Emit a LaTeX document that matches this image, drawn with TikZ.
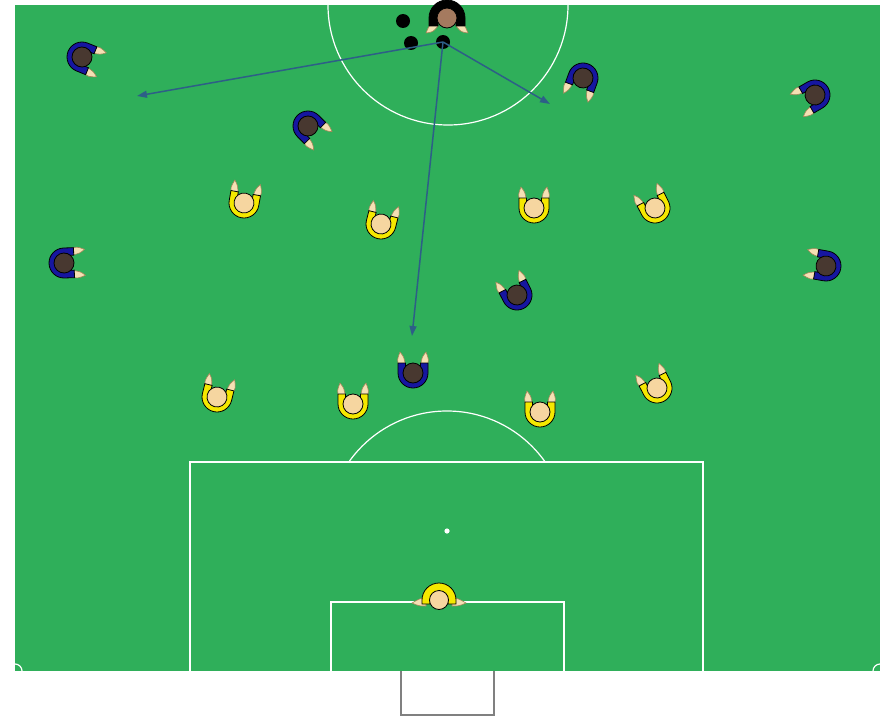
\documentclass[tikz,border=0pt]{standalone}
\usetikzlibrary{arrows.meta}

\definecolor{pitch}{RGB}{47,175,90}
\definecolor{navyshirt}{RGB}{22,22,160}
\definecolor{darkhead}{RGB}{72,56,48}
\definecolor{kityellow}{RGB}{245,232,0}
\definecolor{skin}{RGB}{246,214,160}
\definecolor{handfill}{RGB}{245,224,180}
\definecolor{handline}{RGB}{165,135,90}
\definecolor{passline}{RGB}{45,95,135}
\definecolor{goalgray}{RGB}{128,128,128}
\definecolor{refhead}{RGB}{165,122,95}

\tikzset{
  x=1pt, y=-1pt,
  pitchline/.style={draw=white, line width=1.2},
  ball/.style={circle, fill=black, inner sep=0pt, minimum size=14pt},
  pass/.style={draw=passline, line width=1.5, -{Triangle[length=10pt,width=7pt]}},
  hand/.style={fill=handfill, draw=handline, line width=0.6},
  outline/.style={draw=black, line width=0.8},
  % outfield player, arms pointing forward (image up before rotation)
  pics/player/.style 2 args={code={
    \filldraw[hand] (-14,-7) .. controls (-16,-13) .. (-13,-21)
                    .. controls (-9,-16) .. (-7.5,-7) -- cycle;
    \filldraw[hand] (14,-7) .. controls (16,-13) .. (13,-21)
                    .. controls (9,-16) .. (7.5,-7) -- cycle;
    \filldraw[fill=#1, outline] (-15,-10) -- (-15,0)
      arc[start angle=180, end angle=0, radius=15] -- (15,-10) -- (7.5,-10) -- (7.5,0)
      arc[start angle=0, end angle=180, radius=7.5] -- (-7.5,-10) -- cycle;
    \filldraw[fill=#2, outline] (0,0) circle[radius=10];
  }},
  % arms spread sideways
  pics/keeper/.style 2 args={code={
    \filldraw[hand] (-13,-3) .. controls (-20,-1) .. (-27,3)
                    .. controls (-20,6) .. (-13,6) -- cycle;
    \filldraw[hand] (13,-3) .. controls (20,-1) .. (27,3)
                    .. controls (20,6) .. (13,6) -- cycle;
    \filldraw[fill=#1, outline] (-17,4) -- (-17,0)
      arc[start angle=180, end angle=360, radius=17] -- (17,4) -- (9,4) -- (9,0)
      arc[start angle=0, end angle=-180, radius=9] -- (-9,4) -- cycle;
    \filldraw[fill=#2, outline] (0,0) circle[radius=9.5];
  }},
}

\begin{document}
\begin{tikzpicture}
\useasboundingbox (0,0) rectangle (883,717);

% grass
\fill[pitch] (15,5) rectangle (880,671);

% markings
\begin{scope}
  \clip (15,5) rectangle (880,671);
  \draw[pitchline] (448,5) circle[radius=120];
  \draw[pitchline] (15,671) circle[radius=7];
  \draw[pitchline] (880,671) circle[radius=7];
\end{scope}
\begin{scope}
  \clip (15,380) rectangle (880,462);
  \draw[pitchline] (447,531) circle[radius=120];
\end{scope}
\draw[pitchline] (190,671) -- (190,462) -- (703,462) -- (703,671);
\draw[pitchline] (331,671) -- (331,602) -- (564,602) -- (564,671);
\fill[white] (447,531) circle[radius=2.6];

% goal
\draw[goalgray, line width=2.5] (401,671) -- (401,715) -- (494,715) -- (494,671);

% blue team
\pic[rotate=-112] at (82,57)   {player={navyshirt}{darkhead}};
\pic[rotate=-135] at (308,126) {player={navyshirt}{darkhead}};
\pic[rotate=160]  at (583,78)  {player={navyshirt}{darkhead}};
\pic[rotate=120]  at (815,95)  {player={navyshirt}{darkhead}};
\pic[rotate=-88]  at (64,263)  {player={navyshirt}{darkhead}};
\pic[rotate=80]   at (826,266) {player={navyshirt}{darkhead}};
\pic[rotate=27]   at (517,295) {player={navyshirt}{darkhead}};
\pic at (413,373) {player={navyshirt}{darkhead}};

% yellow team
\pic[rotate=-10] at (244,203) {player={kityellow}{skin}};
\pic[rotate=-14] at (381,224) {player={kityellow}{skin}};
\pic at (534,208) {player={kityellow}{skin}};
\pic[rotate=27]  at (655,208) {player={kityellow}{skin}};
\pic[rotate=-14] at (217,397) {player={kityellow}{skin}};
\pic at (353,404) {player={kityellow}{skin}};
\pic at (540,412) {player={kityellow}{skin}};
\pic[rotate=27]  at (657,388) {player={kityellow}{skin}};
\pic at (439,600) {keeper={kityellow}{skin}};

% player on the ball
\begin{scope}[shift={(447,18)}]
  \filldraw[hand] (-14,3) .. controls (-18,8) .. (-21,15)
                  .. controls (-14,14) .. (-9,8) -- cycle;
  \filldraw[hand] (14,3) .. controls (18,8) .. (21,15)
                  .. controls (14,14) .. (9,8) -- cycle;
  \filldraw[fill=black, outline] (-18,8) -- (-18,0)
    arc[start angle=180, end angle=360, radius=18] -- (18,8) -- (9,8) -- (9,0)
    arc[start angle=0, end angle=-180, radius=9] -- (-9,8) -- cycle;
  \filldraw[fill=refhead, outline] (0,0) circle[radius=10];
\end{scope}

% balls
\node[ball] (b0) at (403,21) {};
\node[ball] (b1) at (411,43) {};
\node[ball] (b2) at (443,42) {};

% passing options
\coordinate (t1) at (137,96);
\coordinate (t2) at (412,336);
\coordinate (t3) at (550,104);
\draw[pass] (b2.center) -- (t1);
\draw[pass] (b2.center) -- (t2);
\draw[pass] (b2.center) -- (t3);
\end{tikzpicture}
\end{document}
